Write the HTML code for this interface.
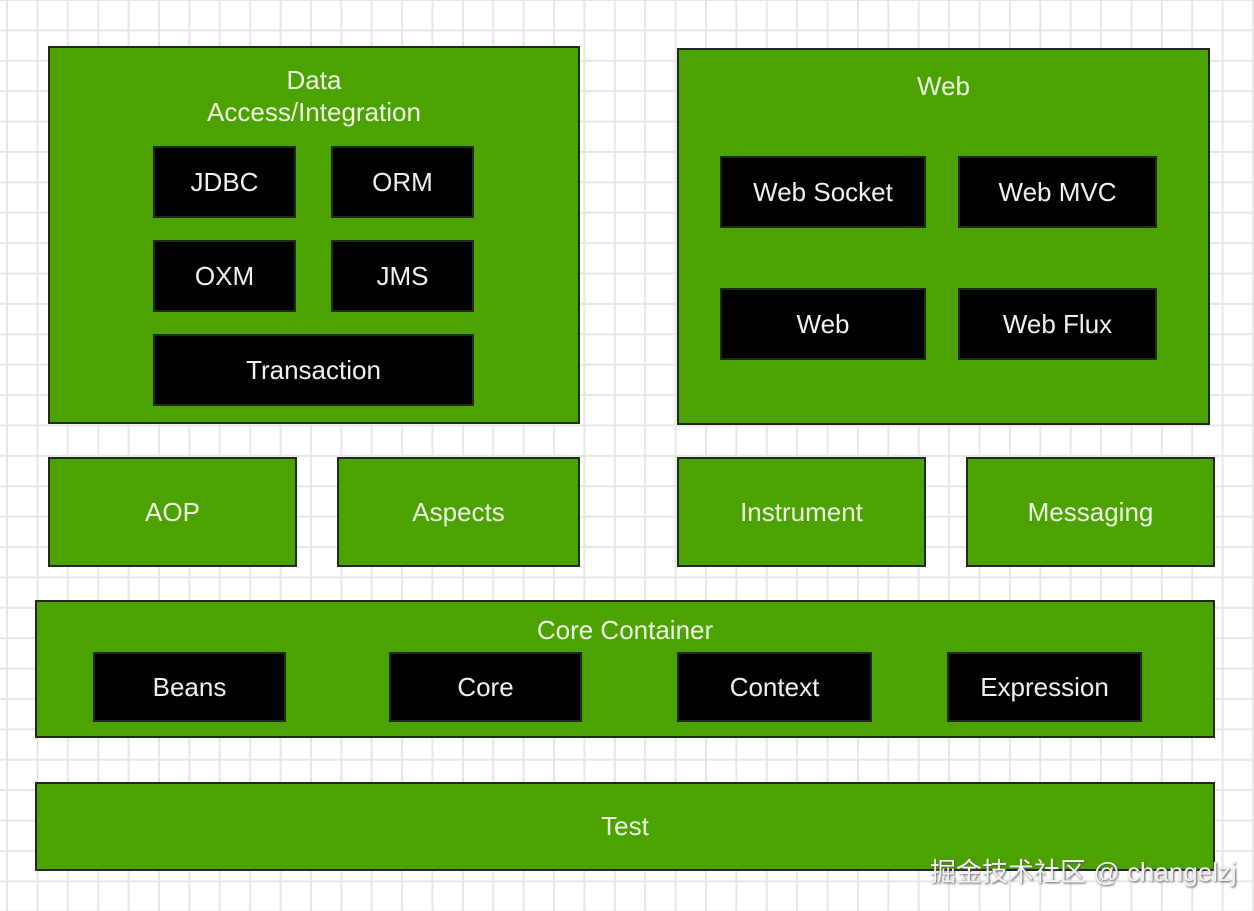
<!DOCTYPE html>
<html><head><meta charset="utf-8"><style>
html,body{margin:0;padding:0}
body{width:1254px;height:911px;position:relative;overflow:hidden;background-color:#fff;
background-image:linear-gradient(to right,#e6e6e6 2px,transparent 2px),linear-gradient(to bottom,#e6e6e6 2px,transparent 2px);
background-size:30.4px 30.4px;background-position:6px -1px;font-family:"Liberation Sans","Noto Sans CJK SC",sans-serif}
.g{position:absolute;background:#4ca300;border:2px solid #1e2a1a;box-sizing:border-box;color:#eef8e6;font-size:26px;text-align:center}
.b{position:absolute;background:#000;border:2px solid #1e2a1a;box-sizing:border-box;color:#f0f0f0;font-size:26px;display:flex;align-items:center;justify-content:center}
.c{display:flex;align-items:center;justify-content:center}
.wm{position:absolute;left:930px;top:852px;font-size:26px;color:#f4f4f4;text-shadow:1px 1px 2px #555;white-space:nowrap}
</style></head><body>
<div class="g" style="left:48px;top:46px;width:532px;height:378px;line-height:32px;padding-top:16px">Data<br>Access/Integration</div>
<div class="b" style="left:153px;top:146px;width:143px;height:72px">JDBC</div>
<div class="b" style="left:331px;top:146px;width:143px;height:72px">ORM</div>
<div class="b" style="left:153px;top:240px;width:143px;height:72px">OXM</div>
<div class="b" style="left:331px;top:240px;width:143px;height:72px">JMS</div>
<div class="b" style="left:153px;top:334px;width:321px;height:72px">Transaction</div>

<div class="g" style="left:677px;top:48px;width:533px;height:377px;padding-top:20px;line-height:32px">Web</div>
<div class="b" style="left:720px;top:156px;width:206px;height:72px">Web Socket</div>
<div class="b" style="left:958px;top:156px;width:199px;height:72px">Web MVC</div>
<div class="b" style="left:720px;top:288px;width:206px;height:72px">Web</div>
<div class="b" style="left:958px;top:288px;width:199px;height:72px">Web Flux</div>

<div class="g c" style="left:48px;top:457px;width:249px;height:110px">AOP</div>
<div class="g c" style="left:337px;top:457px;width:243px;height:110px">Aspects</div>
<div class="g c" style="left:677px;top:457px;width:249px;height:110px">Instrument</div>
<div class="g c" style="left:966px;top:457px;width:249px;height:110px">Messaging</div>

<div class="g" style="left:35px;top:600px;width:1180px;height:138px;padding-top:14px;line-height:28px">Core Container</div>
<div class="b" style="left:93px;top:652px;width:193px;height:70px">Beans</div>
<div class="b" style="left:389px;top:652px;width:193px;height:70px">Core</div>
<div class="b" style="left:677px;top:652px;width:195px;height:70px">Context</div>
<div class="b" style="left:947px;top:652px;width:195px;height:70px">Expression</div>

<div class="g c" style="left:35px;top:782px;width:1180px;height:89px">Test</div>
<div class="wm">掘金技术社区 @ changelzj</div>
</body></html>
